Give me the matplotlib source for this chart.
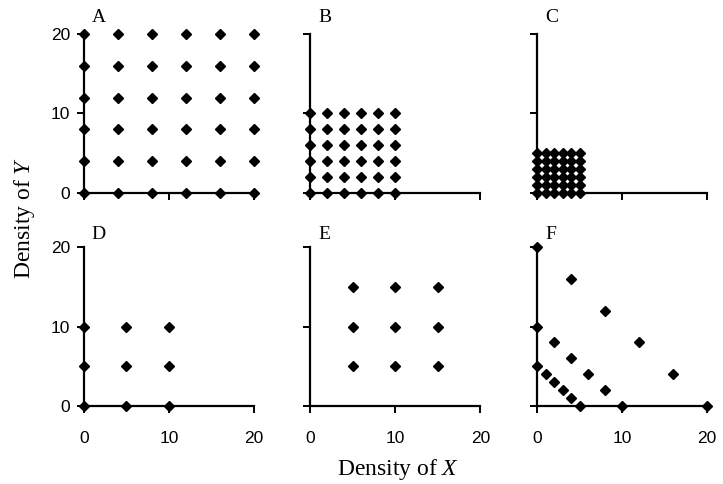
import numpy as np
import matplotlib
matplotlib.use("Agg")
import matplotlib.pyplot as plt

plt.rcParams["mathtext.fontset"] = "custom"
plt.rcParams["mathtext.rm"] = "Liberation Serif"
plt.rcParams["mathtext.it"] = "Liberation Serif:italic"

# grid values for each panel (density of X, density of Y)
a_vals = [0, 4, 8, 12, 16, 20]
b_vals = [0, 2, 4, 6, 8, 10]
c_vals = [0, 1, 2, 3, 4, 5]
d_vals = [0, 5, 10]
e_vals = [5, 10, 15]

# panel F: three diagonal lines x + y = 5, 10, 20
f_x = [0, 1, 2, 3, 4, 5, 0, 2, 4, 6, 8, 10, 0, 4, 8, 12, 16, 20]
f_y = [5, 4, 3, 2, 1, 0, 10, 8, 6, 4, 2, 0, 20, 16, 12, 8, 4, 0]

labels = ["A", "B", "C", "D", "E", "F"]
ticks = [0, 10, 20]


def grid(vx, vy):
    gx, gy = np.meshgrid(vx, vy)
    return gx.ravel(), gy.ravel()


panels = [grid(a_vals, a_vals), grid(b_vals, b_vals), grid(c_vals, c_vals),
          grid(d_vals, d_vals), grid(e_vals, e_vals), (f_x, f_y)]

fig, axes = plt.subplots(2, 3, figsize=(7.23, 4.84), dpi=100)
fig.subplots_adjust(left=0.116, right=0.978, bottom=0.161, top=0.930,
                    wspace=0.333, hspace=0.34)

for i, ax in enumerate(axes.ravel()):
    x, y = panels[i]
    ax.plot(x, y, "D", color="black", markersize=5, clip_on=False,
            zorder=5)
    ax.set_xlim(0, 20)
    ax.set_ylim(0, 20)
    ax.spines["top"].set_visible(False)
    ax.spines["right"].set_visible(False)
    ax.spines["left"].set_linewidth(1.6)
    ax.spines["bottom"].set_linewidth(1.6)
    ax.set_xticks(ticks)
    ax.set_yticks(ticks)
    ax.tick_params(direction="out", length=5, width=1.4, labelsize=12.5)
    ax.tick_params(axis="x", pad=13)
    ax.tick_params(axis="y", pad=5)
    for t in ax.get_xticklabels() + ax.get_yticklabels():
        t.set_fontfamily("Liberation Sans")
    row, col = divmod(i, 3)
    if row == 0:
        ax.tick_params(axis="x", labelbottom=False)
    if col > 0:
        ax.tick_params(axis="y", labelleft=False)
    ax.text(0.047, 1.05 if row == 0 else 1.025, labels[i],
            transform=ax.transAxes, fontfamily="Liberation Serif",
            fontsize=14, ha="left", va="bottom")

fig.text(0.55, 0.0185, "Density of $\\mathit{X}$", fontfamily="Liberation Serif",
         fontsize=17, ha="center", va="baseline")
fig.text(0.034, 0.55, "Density of $\\mathit{Y}$", fontfamily="Liberation Serif",
         fontsize=17, ha="center", va="center", rotation=90)

fig.savefig("out.png", dpi=100)
